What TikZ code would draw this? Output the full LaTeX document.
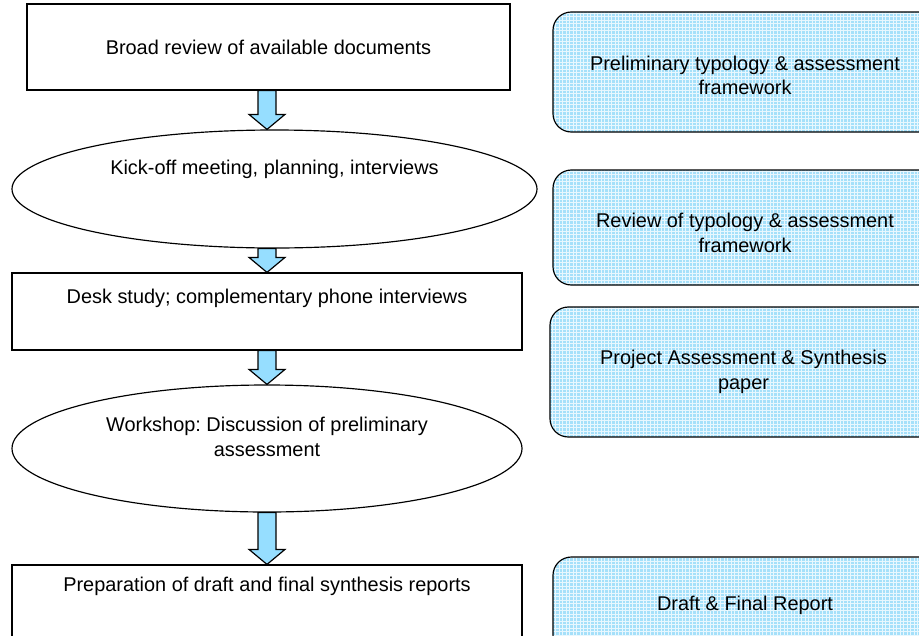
\documentclass[tikz,border=0pt]{standalone}
\usepackage{fontspec}
\setmainfont{Liberation Sans}
\usetikzlibrary{shapes.geometric, calc, patterns}

\definecolor{arrowblue}{RGB}{150,222,255}
\definecolor{notefill}{RGB}{165,224,250}

% block arrow from the bottom of one step to the top of the next
\newcommand{\flowarrow}[2]{%
  \path (ax |- #1.south) coordinate (s) (ax |- #2.north) coordinate (e);
  \filldraw[flow] ($(s)+(-9,0)$) -- ($(e)+(-9,-15)$) -- ($(e)+(-18,-15)$) -- (e)
    -- ($(e)+(18,-15)$) -- ($(e)+(9,-15)$) -- ($(s)+(9,0)$) -- cycle;
}

\begin{document}
\begin{tikzpicture}[x=0.03cm, y=-0.03cm,
  every node/.style={font=\fontsize{17}{21}\selectfont\frenchspacing, align=center},
  stepbox/.style={rectangle, draw, line width=1pt},
  meeting/.style={ellipse, draw, line width=1pt},
  output/.style={rectangle, draw, line width=1pt, rounded corners=0.55cm,
    preaction={fill=notefill}, pattern=grid, pattern color=white!75!notefill},
  flow/.style={draw=black, line width=1pt, fill=arrowblue, line join=miter}
]
  \useasboundingbox (0,0) rectangle (919,635);

  % Steps on the left
  \node[stepbox, minimum width=14.49cm, minimum height=2.58cm] (b1) at (268.5,47)
    {Broad review of available documents};
  \node[meeting, minimum width=15.75cm, minimum height=3.54cm, text depth=1.32cm] (e1) at (274.5,189)
    {Kick-off meeting, planning, interviews};
  \node[stepbox, minimum width=15.3cm, minimum height=2.31cm, text depth=0.93cm] (b2) at (267,311.5)
    {Desk study; complementary phone interviews};
  \node[meeting, minimum width=15.3cm, minimum height=3.81cm, text depth=0.69cm] (e2) at (267,448.5)
    {Workshop: Discussion of preliminary\\assessment};
  \node[stepbox, minimum width=15.3cm, minimum height=2.4cm, text depth=1.26cm] (b3) at (267,605)
    {Preparation of draft and final synthesis reports};

  % Outputs on the right
  \node[output, minimum width=11.52cm, minimum height=3.6cm, text height=1.38cm] (r1) at (745,72)
    {Preliminary typology \& assessment\\framework};
  \node[output, minimum width=11.52cm, minimum height=3.45cm, text height=1.5cm] (r2) at (745,227.5)
    {Review of typology \& assessment\\framework};
  \node[output, minimum width=11.61cm, minimum height=3.9cm] (r3) at (743.5,372)
    {Project Assessment \& Synthesis\\paper};
  \node[output, minimum width=11.52cm, minimum height=2.88cm] (r4) at (745,605)
    {Draft \& Final Report};

  % Arrows
  \coordinate (ax) at (267,0);
  \foreach \a/\b in {b1/e1, e1/b2, b2/e2, e2/b3} {
    \flowarrow{\a}{\b}
  }
\end{tikzpicture}
\end{document}
